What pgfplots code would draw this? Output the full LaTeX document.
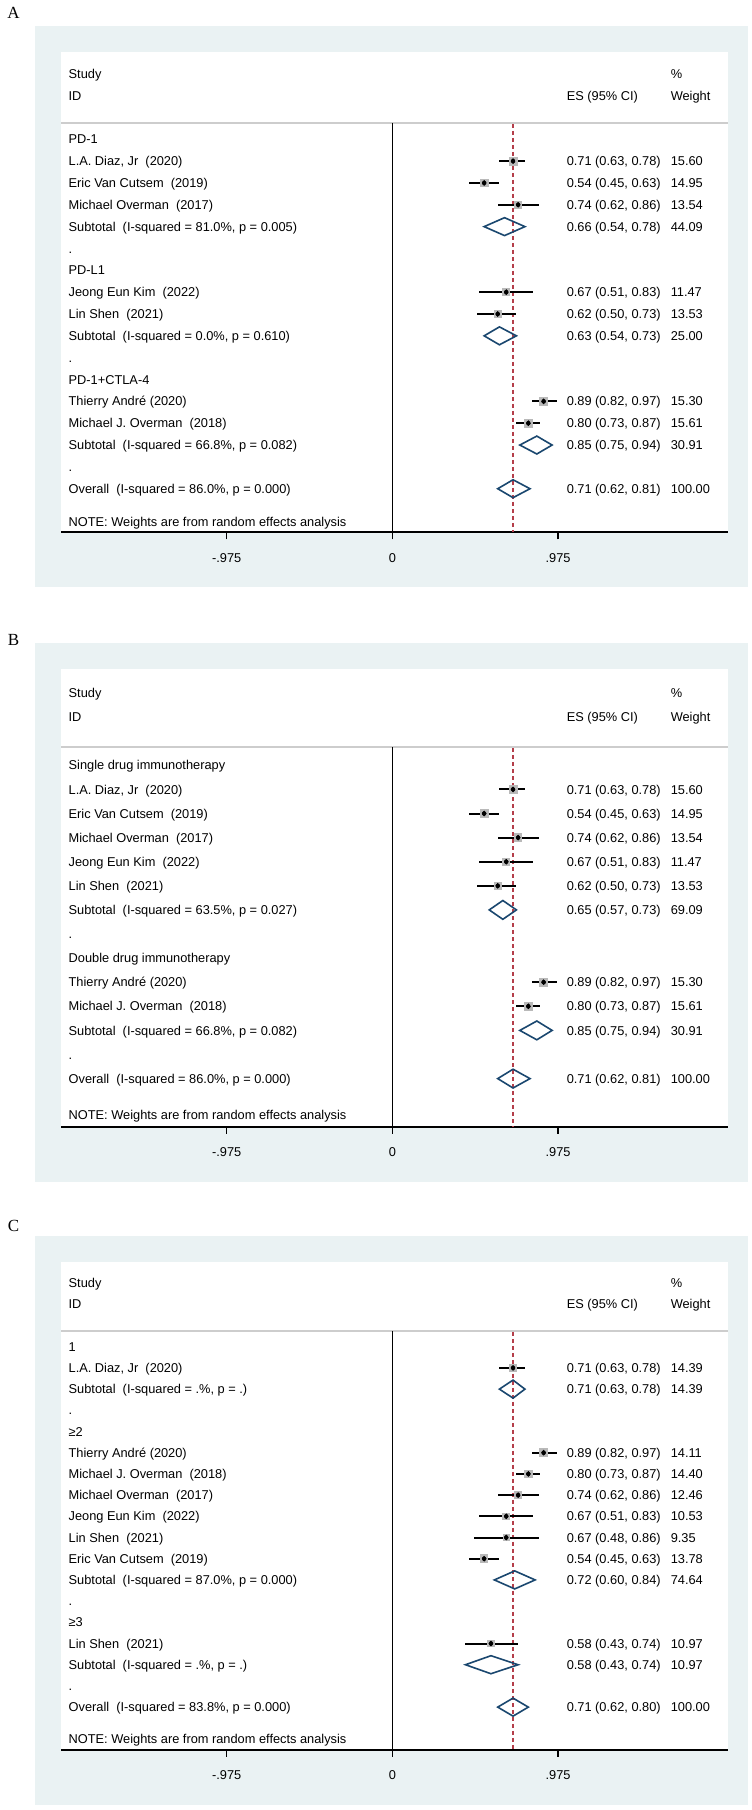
\documentclass[border=0pt]{standalone}
\usepackage{fontspec}
\setmainfont{Liberation Sans}
\newfontfamily\labfont{Liberation Serif}
\usepackage{pgfplots}
\pgfplotsset{compat=1.18}
\usepackage{pgfplotstable}

\definecolor{bgblue}{RGB}{234,242,243}
\definecolor{navy}{RGB}{26,71,111}
\definecolor{boxgray}{RGB}{185,185,185}
\definecolor{refred}{RGB}{180,62,74}
\definecolor{headgray}{RGB}{205,205,205}

\newcommand\fs{\fontsize{12.8pt}{15pt}\selectfont}
\tikzset{lab/.style={anchor=base west, font=\fs, inner sep=0pt, yshift=-4.6pt}}
\newcommand\Rw[4]{\node[lab] at (axis cs:-1.906,#1) {#2};\node[lab] at (axis cs:1.025,#1) {#3};\node[lab] at (axis cs:1.637,#1) {#4};}
\newcommand\Rl[2]{\node[lab] at (axis cs:-1.906,#1) {#2};}
\newcommand\Head{\Rl{3}{Study}\Rl{2}{ID}\node[lab] at (axis cs:1.637,3) {\%};\node[lab] at (axis cs:1.025,2) {ES (95\% CI)};\node[lab] at (axis cs:1.637,2) {Weight};
  \draw[headgray, line width=2pt] (axis cs:-1.95,0.75) -- (axis cs:1.975,0.75);}

\pgfplotsset{
  forest/.style={
    scale only axis, width=667pt,
    xmin=-1.95, xmax=1.975, ymax=4,
    axis x line=bottom, axis y line=none,
    x axis line style={line width=2pt, -},
    axis background/.style={fill=white},
    xtick={-0.975,0,0.975}, xticklabels={-.975,0,.975},
    tick align=outside, major tick length=7pt,
    tick style={black, line width=1.2pt},
    xticklabel style={font=\fs, anchor=center, inner sep=0pt, yshift=-18.5pt},
    clip=false, anchor=north west,
  },
  boxes/.style={scatter, only marks, mark=square*, point meta=y,
    mark options={draw=boxgray, fill=boxgray, line width=0pt},
    scatter/use mapped color={draw=boxgray, fill=boxgray},
    visualization depends on={1.013*sqrt(\thisrow{w}) \as \msz},
    scatter/@pre marker code/.append style={/tikz/mark size=\msz}},
  cis/.style={only marks, mark=none, error bars/.cd, x dir=both, x explicit,
    error mark=none, error bar style={draw=black, line width=2pt}},
  dots/.style={only marks, mark=diamond*, mark size=2.6pt, black},
  dia/.style={navy, line width=1.6pt, line join=miter, mark=none},
  zl/.style={black, line width=1.3pt},
  dl/.style={refred, line width=1.1pt, dash pattern=on 4pt off 3pt},
}

\pgfplotstableread{
y es lo hi w
-1 0.71 0.63 0.78 15.60
-2 0.54 0.45 0.63 14.95
-3 0.74 0.62 0.86 13.54
-7 0.67 0.51 0.83 11.47
-8 0.62 0.50 0.73 13.53
-12 0.89 0.82 0.97 15.30
-13 0.80 0.73 0.87 15.61
}\studiesA

\pgfplotstableread{
y es lo hi w
-1 0.71 0.63 0.78 15.60
-2 0.54 0.45 0.63 14.95
-3 0.74 0.62 0.86 13.54
-4 0.67 0.51 0.83 11.47
-5 0.62 0.50 0.73 13.53
-9 0.89 0.82 0.97 15.30
-10 0.80 0.73 0.87 15.61
}\studiesB

\pgfplotstableread{
y es lo hi w
-1 0.71 0.63 0.78 14.39
-5 0.89 0.82 0.97 14.11
-6 0.80 0.73 0.87 14.40
-7 0.74 0.62 0.86 12.46
-8 0.67 0.51 0.83 10.53
-9 0.67 0.48 0.86 9.35
-10 0.54 0.45 0.63 13.78
-14 0.58 0.43 0.74 10.97
}\studiesC

\begin{document}
\frenchspacing
\begin{tikzpicture}
\fill[white] (0,0) rectangle (752pt,-1810pt);
\fill[bgblue] (35pt,-26pt) rectangle (748pt,-587pt);
\fill[bgblue] (35pt,-643pt) rectangle (748pt,-1182pt);
\fill[bgblue] (35pt,-1236pt) rectangle (748pt,-1805pt);
\node[font=\labfont\fontsize{17pt}{20pt}\selectfont, inner sep=0pt] at (13.5pt,-13pt) {A};
\node[font=\labfont\fontsize{17pt}{20pt}\selectfont, inner sep=0pt] at (13.5pt,-640pt) {B};
\node[font=\labfont\fontsize{17pt}{20pt}\selectfont, inner sep=0pt] at (13.5pt,-1226pt) {C};

% ---------------- Panel A ----------------
\begin{axis}[forest, at={(61pt,-51.9pt)}, height=480.5pt, ymin=-18]
\Head
\addplot[zl] coordinates {(0,0.75) (0,-18)};
\addplot[boxes] table[x=es,y=y] {\studiesA};
\addplot[dl] coordinates {(0.71,0.7) (0.71,-18)};
\addplot[cis] table[x=es, y=y, x error plus expr=\thisrow{hi}-\thisrow{es}, x error minus expr=\thisrow{es}-\thisrow{lo}] {\studiesA};
\addplot[dots] table[x=es,y=y] {\studiesA};
\addplot[dia] coordinates {(0.54,-4) (0.66,-3.59) (0.78,-4) (0.66,-4.41)} -- cycle;
\addplot[dia] coordinates {(0.54,-9) (0.63,-8.59) (0.73,-9) (0.63,-9.41)} -- cycle;
\addplot[dia] coordinates {(0.75,-14) (0.85,-13.59) (0.94,-14) (0.85,-14.41)} -- cycle;
\addplot[dia] coordinates {(0.62,-16) (0.71,-15.59) (0.81,-16) (0.71,-16.41)} -- cycle;
\Rl{0}{PD-1}
\Rw{-1}{L.A. Diaz, Jr\ \ (2020)}{0.71 (0.63, 0.78)}{15.60}
\Rw{-2}{Eric Van Cutsem\ \ (2019)}{0.54 (0.45, 0.63)}{14.95}
\Rw{-3}{Michael Overman\ \ (2017)}{0.74 (0.62, 0.86)}{13.54}
\Rw{-4}{Subtotal\ \ (I-squared = 81.0\%, p = 0.005)}{0.66 (0.54, 0.78)}{44.09}
\Rl{-5}{.}
\Rl{-6}{PD-L1}
\Rw{-7}{Jeong Eun Kim\ \ (2022)}{0.67 (0.51, 0.83)}{11.47}
\Rw{-8}{Lin Shen\ \ (2021)}{0.62 (0.50, 0.73)}{13.53}
\Rw{-9}{Subtotal\ \ (I-squared = 0.0\%, p = 0.610)}{0.63 (0.54, 0.73)}{25.00}
\Rl{-10}{.}
\Rl{-11}{PD-1+CTLA-4}
\Rw{-12}{Thierry André (2020)}{0.89 (0.82, 0.97)}{15.30}
\Rw{-13}{Michael J. Overman\ \ (2018)}{0.80 (0.73, 0.87)}{15.61}
\Rw{-14}{Subtotal\ \ (I-squared = 66.8\%, p = 0.082)}{0.85 (0.75, 0.94)}{30.91}
\Rl{-15}{.}
\Rw{-16}{Overall\ \ (I-squared = 86.0\%, p = 0.000)}{0.71 (0.62, 0.81)}{100.00}
\Rl{-17.5}{NOTE: Weights are from random effects analysis}
\end{axis}

% ---------------- Panel B ----------------
\begin{axis}[forest, at={(61pt,-668.9pt)}, height=457.9pt, ymin=-15]
\Head
\addplot[zl] coordinates {(0,0.75) (0,-15)};
\addplot[boxes] table[x=es,y=y] {\studiesB};
\addplot[dl] coordinates {(0.71,0.7) (0.71,-15)};
\addplot[cis] table[x=es, y=y, x error plus expr=\thisrow{hi}-\thisrow{es}, x error minus expr=\thisrow{es}-\thisrow{lo}] {\studiesB};
\addplot[dots] table[x=es,y=y] {\studiesB};
\addplot[dia] coordinates {(0.57,-6) (0.65,-5.61) (0.73,-6) (0.65,-6.39)} -- cycle;
\addplot[dia] coordinates {(0.75,-11) (0.85,-10.61) (0.94,-11) (0.85,-11.39)} -- cycle;
\addplot[dia] coordinates {(0.62,-13) (0.71,-12.61) (0.81,-13) (0.71,-13.39)} -- cycle;
\Rl{0}{Single drug immunotherapy}
\Rw{-1}{L.A. Diaz, Jr\ \ (2020)}{0.71 (0.63, 0.78)}{15.60}
\Rw{-2}{Eric Van Cutsem\ \ (2019)}{0.54 (0.45, 0.63)}{14.95}
\Rw{-3}{Michael Overman\ \ (2017)}{0.74 (0.62, 0.86)}{13.54}
\Rw{-4}{Jeong Eun Kim\ \ (2022)}{0.67 (0.51, 0.83)}{11.47}
\Rw{-5}{Lin Shen\ \ (2021)}{0.62 (0.50, 0.73)}{13.53}
\Rw{-6}{Subtotal\ \ (I-squared = 63.5\%, p = 0.027)}{0.65 (0.57, 0.73)}{69.09}
\Rl{-7}{.}
\Rl{-8}{Double drug immunotherapy}
\Rw{-9}{Thierry André (2020)}{0.89 (0.82, 0.97)}{15.30}
\Rw{-10}{Michael J. Overman\ \ (2018)}{0.80 (0.73, 0.87)}{15.61}
\Rw{-11}{Subtotal\ \ (I-squared = 66.8\%, p = 0.082)}{0.85 (0.75, 0.94)}{30.91}
\Rl{-12}{.}
\Rw{-13}{Overall\ \ (I-squared = 86.0\%, p = 0.000)}{0.71 (0.62, 0.81)}{100.00}
\Rl{-14.5}{NOTE: Weights are from random effects analysis}
\end{axis}

% ---------------- Panel C ----------------
\begin{axis}[forest, at={(61pt,-1261.9pt)}, height=487.6pt, ymin=-19]
\Head
\addplot[zl] coordinates {(0,0.75) (0,-19)};
\addplot[boxes] table[x=es,y=y] {\studiesC};
\addplot[dl] coordinates {(0.71,0.7) (0.71,-19)};
\addplot[cis] table[x=es, y=y, x error plus expr=\thisrow{hi}-\thisrow{es}, x error minus expr=\thisrow{es}-\thisrow{lo}] {\studiesC};
\addplot[dots] table[x=es,y=y] {\studiesC};
\addplot[dia] coordinates {(0.63,-2) (0.71,-1.575) (0.78,-2) (0.71,-2.425)} -- cycle;
\addplot[dia] coordinates {(0.60,-11) (0.72,-10.575) (0.84,-11) (0.72,-11.425)} -- cycle;
\addplot[dia] coordinates {(0.43,-15) (0.58,-14.575) (0.74,-15) (0.58,-15.425)} -- cycle;
\addplot[dia] coordinates {(0.62,-17) (0.71,-16.575) (0.80,-17) (0.71,-17.425)} -- cycle;
\Rl{0}{1}
\Rw{-1}{L.A. Diaz, Jr\ \ (2020)}{0.71 (0.63, 0.78)}{14.39}
\Rw{-2}{Subtotal\ \ (I-squared = .\%, p = .)}{0.71 (0.63, 0.78)}{14.39}
\Rl{-3}{.}
\Rl{-4}{≥2}
\Rw{-5}{Thierry André (2020)}{0.89 (0.82, 0.97)}{14.11}
\Rw{-6}{Michael J. Overman\ \ (2018)}{0.80 (0.73, 0.87)}{14.40}
\Rw{-7}{Michael Overman\ \ (2017)}{0.74 (0.62, 0.86)}{12.46}
\Rw{-8}{Jeong Eun Kim\ \ (2022)}{0.67 (0.51, 0.83)}{10.53}
\Rw{-9}{Lin Shen\ \ (2021)}{0.67 (0.48, 0.86)}{9.35}
\Rw{-10}{Eric Van Cutsem\ \ (2019)}{0.54 (0.45, 0.63)}{13.78}
\Rw{-11}{Subtotal\ \ (I-squared = 87.0\%, p = 0.000)}{0.72 (0.60, 0.84)}{74.64}
\Rl{-12}{.}
\Rl{-13}{≥3}
\Rw{-14}{Lin Shen\ \ (2021)}{0.58 (0.43, 0.74)}{10.97}
\Rw{-15}{Subtotal\ \ (I-squared = .\%, p = .)}{0.58 (0.43, 0.74)}{10.97}
\Rl{-16}{.}
\Rw{-17}{Overall\ \ (I-squared = 83.8\%, p = 0.000)}{0.71 (0.62, 0.80)}{100.00}
\Rl{-18.5}{NOTE: Weights are from random effects analysis}
\end{axis}
\pgfresetboundingbox
\useasboundingbox (0,0) rectangle (752pt,-1810pt);
\end{tikzpicture}
\end{document}
